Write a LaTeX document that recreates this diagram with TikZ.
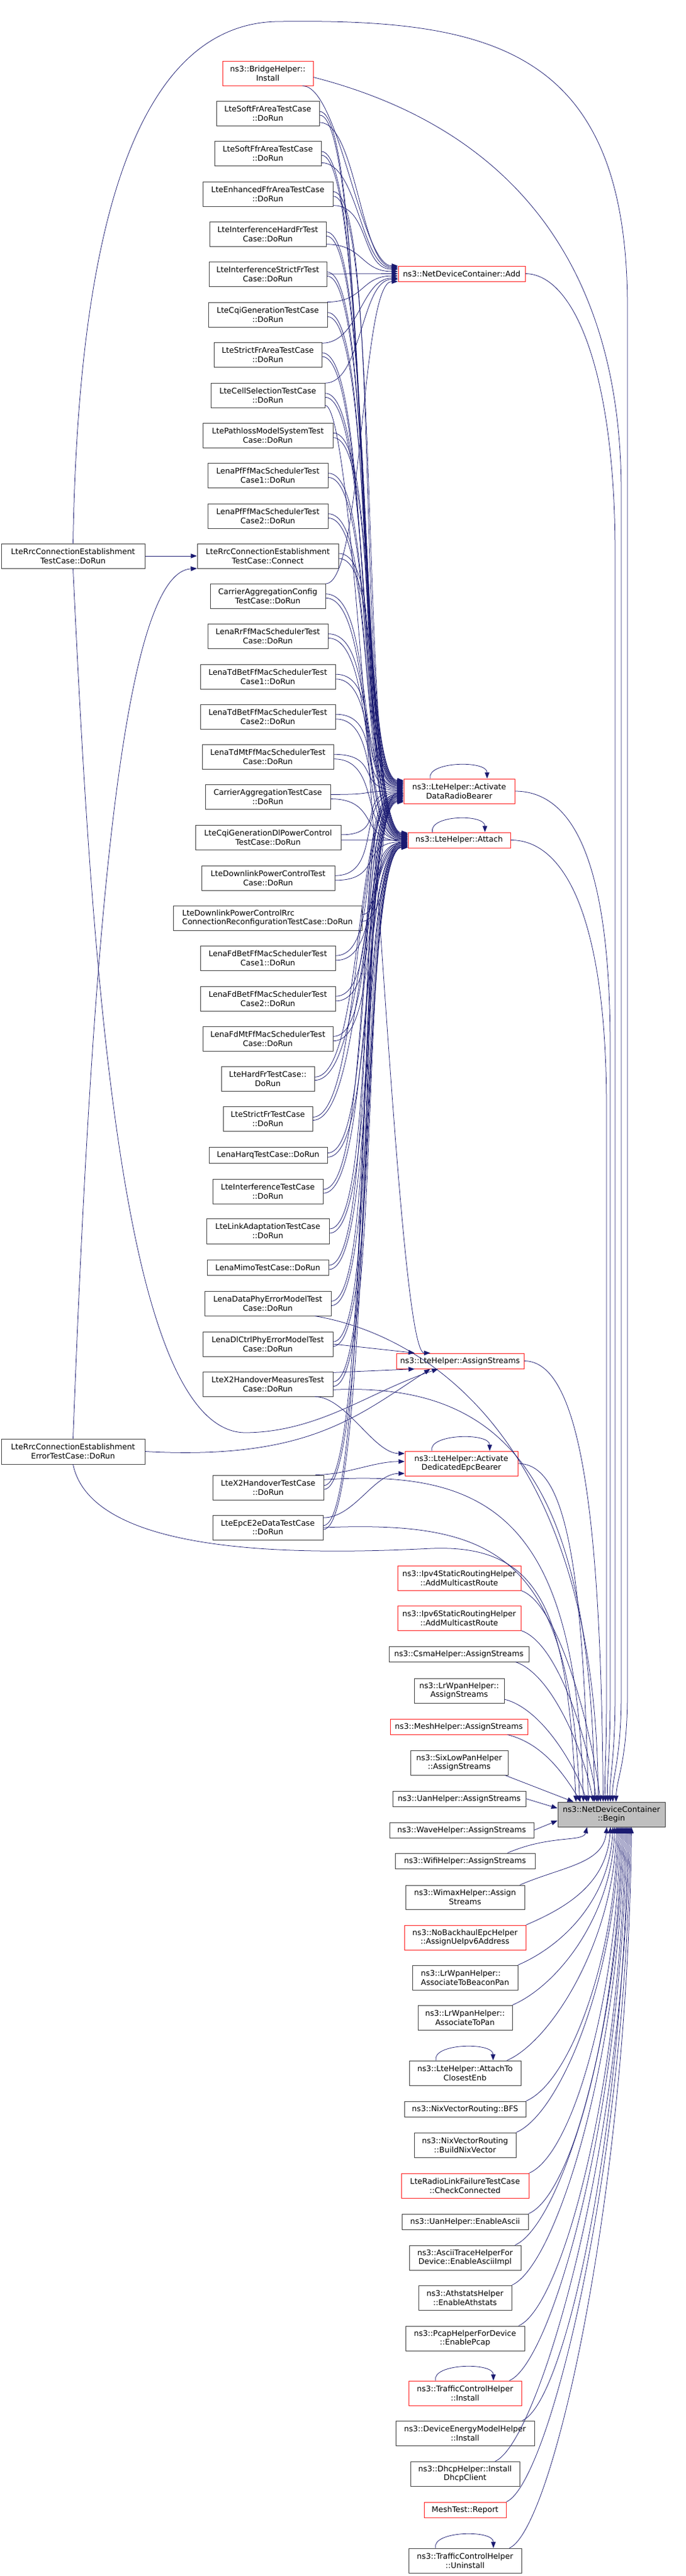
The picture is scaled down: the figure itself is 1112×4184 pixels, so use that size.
\documentclass[tikz,border=0pt]{standalone}
\usepackage{fontspec}
\setmainfont{DejaVu Sans}
\usetikzlibrary{arrows.meta,calc}
\definecolor{edgec}{HTML}{191970}
\definecolor{boxc}{HTML}{404040}
\definecolor{redc}{HTML}{FF2020}
\definecolor{beginfill}{HTML}{BFBFBF}
\newcommand\mynode[7]{\node[#2,minimum width={#5-#3},minimum height={#6-#4}] (#1) at ({(#3+#5)/2},{(#4+#6)/2}) {#7};}
\newcommand\scurve[3][80]{\draw[e] (#2) .. controls +(#1,0) and +(-#1,0) .. (#3);}
\newcommand\eb[4]{\draw[e] ($(#1.north east)+(#2,0)$) .. controls +(70,-30) and +(-6,#4) .. ($(begin.south west)+(#3,0)$);}
\newcommand\selfloop[1]{\draw[e] ($(#1.north west)!0.24!(#1.north east)$) .. controls +(-6,-28) and +(0,-30) .. ($(#1.north west)!0.75!(#1.north east)$);}
\tikzset{
 nb/.style={draw=boxc, fill=white, line width=1pt, inner sep=0pt, align=center, font=\fontsize{12.6}{14.6}\selectfont},
 nr/.style={nb, draw=redc},
 ng/.style={nb, fill=beginfill},
 e/.style={draw=edgec, line width=0.75pt, -{Triangle[length=10pt,width=7.5pt]}},
}
\begin{document}
\begin{tikzpicture}[x=1pt,y=-1pt]
\useasboundingbox (0,0) rectangle (1112,4184);
% left column
\mynode{rrc}{nb}{2}{883}{235}{923}{LteRrcConnectionEstablishment\\TestCase::DoRun}
\mynode{rrcerr}{nb}{2}{2337}{235}{2378}{LteRrcConnectionEstablishment\\ErrorTestCase::DoRun}
% middle column
\mynode{bridge}{nr}{361}{99}{508}{139}{ns3::BridgeHelper::\\Install}
\mynode{sfr}{nb}{351}{164}{518}{204}{LteSoftFrAreaTestCase\\::DoRun}
\mynode{sffr}{nb}{348}{229}{521}{269}{LteSoftFfrAreaTestCase\\::DoRun}
\mynode{effr}{nb}{329}{295}{540}{335}{LteEnhancedFfrAreaTestCase\\::DoRun}
\mynode{ihfr}{nb}{340}{360}{529}{400}{LteInterferenceHardFrTest\\Case::DoRun}
\mynode{isfr}{nb}{339}{425}{530}{465}{LteInterferenceStrictFrTest\\Case::DoRun}
\mynode{cqi}{nb}{338}{491}{531}{531}{LteCqiGenerationTestCase\\::DoRun}
\mynode{sfra}{nb}{347}{556}{522}{596}{LteStrictFrAreaTestCase\\::DoRun}
\mynode{cell}{nb}{342}{622}{527}{662}{LteCellSelectionTestCase\\::DoRun}
\mynode{path}{nb}{329}{687}{540}{727}{LtePathlossModelSystemTest\\Case::DoRun}
\mynode{pf1}{nb}{337}{752}{532}{792}{LenaPfFfMacSchedulerTest\\Case1::DoRun}
\mynode{pf2}{nb}{337}{818}{532}{858}{LenaPfFfMacSchedulerTest\\Case2::DoRun}
\mynode{conn}{nb}{320}{883}{549}{923}{LteRrcConnectionEstablishment\\TestCase::Connect}
\mynode{cac}{nb}{341}{948}{528}{988}{CarrierAggregationConfig\\TestCase::DoRun}
\mynode{rr}{nb}{337}{1013}{532}{1053}{LenaRrFfMacSchedulerTest\\Case::DoRun}
\mynode{tdb1}{nb}{325}{1079}{544}{1119}{LenaTdBetFfMacSchedulerTest\\Case1::DoRun}
\mynode{tdb2}{nb}{325}{1144}{544}{1184}{LenaTdBetFfMacSchedulerTest\\Case2::DoRun}
\mynode{tdmt}{nb}{328}{1209}{541}{1249}{LenaTdMtFfMacSchedulerTest\\Case::DoRun}
\mynode{cat}{nb}{333}{1274}{536}{1314}{CarrierAggregationTestCase\\::DoRun}
\mynode{cqidl}{nb}{317}{1340}{553}{1380}{LteCqiGenerationDlPowerControl\\TestCase::DoRun}
\mynode{dlpc}{nb}{327}{1406}{543}{1446}{LteDownlinkPowerControlTest\\Case::DoRun}
\mynode{dlrrc}{nb,align=left}{281}{1471}{587}{1511}{LteDownlinkPowerControlRrc\\ConnectionReconfigurationTestCase::DoRun}
\mynode{fdb1}{nb}{325}{1536}{544}{1576}{LenaFdBetFfMacSchedulerTest\\Case1::DoRun}
\mynode{fdb2}{nb}{325}{1602}{544}{1642}{LenaFdBetFfMacSchedulerTest\\Case2::DoRun}
\mynode{fdmt}{nb}{329}{1667}{540}{1707}{LenaFdMtFfMacSchedulerTest\\Case::DoRun}
\mynode{hfr}{nb}{359}{1732}{510}{1772}{LteHardFrTestCase::\\DoRun}
\mynode{sfr2}{nb}{362}{1797}{507}{1837}{LteStrictFrTestCase\\::DoRun}
\mynode{harq}{nb}{339}{1863}{531}{1889}{LenaHarqTestCase::DoRun}
\mynode{intf}{nb}{345}{1915}{524}{1955}{LteInterferenceTestCase\\::DoRun}
\mynode{link}{nb}{335}{1979}{534}{2020}{LteLinkAdaptationTestCase\\::DoRun}
\mynode{mimo}{nb}{336}{2046}{533}{2071}{LenaMimoTestCase::DoRun}
\mynode{dphy}{nb}{332}{2097}{537}{2137}{LenaDataPhyErrorModelTest\\Case::DoRun}
\mynode{dlctrl}{nb}{329}{2163}{540}{2203}{LenaDlCtrlPhyErrorModelTest\\Case::DoRun}
\mynode{x2m}{nb}{329}{2228}{540}{2268}{LteX2HandoverMeasuresTest\\Case::DoRun}
\mynode{x2h}{nb}{345}{2396}{525}{2436}{LteX2HandoverTestCase\\::DoRun}
\mynode{e2e}{nb}{345}{2461}{524}{2501}{LteEpcE2eDataTestCase\\::DoRun}
% helpers
\mynode{add}{nr}{646}{432}{852}{457}{ns3::NetDeviceContainer::Add}
\mynode{adrb}{nr}{655}{1265}{835}{1305}{ns3::LteHelper::Activate\\DataRadioBearer}
\mynode{att}{nr}{662}{1352}{828}{1377}{ns3::LteHelper::Attach}
\mynode{ast}{nr}{643}{2198}{850}{2223}{ns3::LteHelper::AssignStreams}
\mynode{adeb}{nr}{657}{2357}{840}{2397}{ns3::LteHelper::Activate\\DedicatedEpcBearer}
% right column
\mynode{ipv4}{nr}{645}{2543}{845}{2583}{ns3::Ipv4StaticRoutingHelper\\::AddMulticastRoute}
\mynode{ipv6}{nr}{645}{2608}{845}{2648}{ns3::Ipv6StaticRoutingHelper\\::AddMulticastRoute}
\mynode{csma}{nb}{631}{2674}{858}{2699}{ns3::CsmaHelper::AssignStreams}
\mynode{lrw}{nb}{672}{2726}{818}{2766}{ns3::LrWpanHelper::\\AssignStreams}
\mynode{mesh}{nr}{633}{2792}{856}{2817}{ns3::MeshHelper::AssignStreams}
\mynode{six}{nb}{666}{2843}{824}{2883}{ns3::SixLowPanHelper\\::AssignStreams}
\mynode{uan}{nb}{637}{2909}{853}{2934}{ns3::UanHelper::AssignStreams}
\mynode{begin}{ng}{905}{2927}{1079}{2967}{ns3::NetDeviceContainer\\::Begin}
\mynode{wave}{nb}{632}{2960}{866}{2985}{ns3::WaveHelper::AssignStreams}
\mynode{wifi}{nb}{641}{3010}{868}{3035}{ns3::WifiHelper::AssignStreams}
\mynode{wimax}{nb}{658}{3062}{851}{3101}{ns3::WimaxHelper::Assign\\Streams}
\mynode{nob}{nr}{656}{3127}{853}{3167}{ns3::NoBackhaulEpcHelper\\::AssignUeIpv6Address}
\mynode{beacon}{nb,align=left}{669}{3192}{840}{3232}{ns3::LrWpanHelper::\\AssociateToBeaconPan}
\mynode{apan}{nb}{678}{3257}{831}{3297}{ns3::LrWpanHelper::\\AssociateToPan}
\mynode{closest}{nb}{664}{3347}{845}{3387}{ns3::LteHelper::AttachTo\\ClosestEnb}
\mynode{bfs}{nb}{656}{3413}{853}{3438}{ns3::NixVectorRouting::BFS}
\mynode{bnv}{nb}{672}{3464}{837}{3504}{ns3::NixVectorRouting\\::BuildNixVector}
\mynode{rlf}{nr}{651}{3530}{858}{3570}{LteRadioLinkFailureTestCase\\::CheckConnected}
\mynode{uanasc}{nb}{652}{3596}{857}{3621}{ns3::UanHelper::EnableAscii}
\mynode{ascii}{nb}{664}{3647}{845}{3687}{ns3::AsciiTraceHelperFor\\Device::EnableAsciiImpl}
\mynode{ath}{nb}{679}{3712}{830}{3752}{ns3::AthstatsHelper\\::EnableAthstats}
\mynode{pcap}{nb}{658}{3778}{851}{3818}{ns3::PcapHelperForDevice\\::EnablePcap}
\mynode{tci}{nr}{663}{3867}{846}{3907}{ns3::TrafficControlHelper\\::Install}
\mynode{dem}{nb}{642}{3932}{867}{3972}{ns3::DeviceEnergyModelHelper\\::Install}
\mynode{dhcp}{nb}{666}{3998}{843}{4038}{ns3::DhcpHelper::Install\\DhcpClient}
\mynode{mtr}{nr}{688}{4064}{821}{4089}{MeshTest::Report}
\mynode{tcu}{nb}{663}{4139}{846}{4179}{ns3::TrafficControlHelper\\::Uninstall}

% self loops
\selfloop{adrb}
\selfloop{att}
\selfloop{adeb}
\selfloop{closest}
\selfloop{tci}
\selfloop{tcu}

% Connect callers
\draw[e] (rrc.east) -- (conn.west);
\draw[e] (rrcerr.north) .. controls (150,1500) and (200,930) .. (conn.190);

% Add callers
\scurve[60]{bridge.340}{add.173}
\scurve[60]{sfr.350}{add.174}
\scurve[60]{sffr.350}{add.175}
\scurve[60]{effr.350}{add.176}
\scurve[60]{ihfr.350}{add.178}
\draw[e] (isfr.east) -- (add.west);
\scurve[60]{cqi.12}{add.182}
\scurve[60]{sfra.12}{add.184}
\scurve[60]{cell.12}{add.185}
\scurve[60]{cac.12}{add.187}

% ActivateDataRadioBearer and Attach callers
\foreach \s/\a/\b in {sfr/169/172, sffr/170/173, effr/170/173, ihfr/171/174, isfr/171/174,
  cqi/172/175, sfra/172/175, cell/173/176, path/173/176, pf1/174/177, pf2/174/177,
  conn/175/178, cac/176/178, rr/176/179, tdb1/177/179, tdb2/178/180, tdmt/179/180,
  cat/180/181, cqidl/181/180, dlpc/182/182, fdb1/183/183, fdb2/183/183,
  fdmt/184/184, hfr/184/184, sfr2/185/185, harq/185/185, intf/186/186, link/186/186,
  mimo/187/187, dphy/188/187, dlctrl/189/188, x2m/190/188, x2h/190/188, e2e/191/188}{
  \scurve{\s.2}{adrb.\a}
  \scurve{\s.358}{att.\b}
}
\scurve[40]{dlrrc.2}{adrb.182}
\scurve[40]{dlrrc.358}{att.182}

% AssignStreams callers
\draw[e] (dlctrl.east) -- (ast.170);
\draw[e] (x2m.10) -- (ast.190);
\draw[e] (rrc.south) .. controls (150,1600) and (200,2330) .. (400,2327) .. controls (520,2325) and (600,2260) .. (ast.200);
\draw[e] (rrcerr.east) .. controls (500,2372) and (580,2300) .. (ast.195);
\scurve[60]{cell.350}{ast.165}

% ActivateDedicatedEpcBearer callers
\scurve[50]{x2m.345}{adeb.170}
\scurve[50]{x2h.15}{adeb.178}
\scurve[50]{e2e.10}{adeb.190}

% long edges to Begin
\draw[e] (rrc.north) .. controls (125,500) and (180,40) .. (450,35) .. controls (800,30) and (1018,80) .. (1018,500) -- (1018,2750) .. controls (1018,2860) and (1000,2890) .. ($(begin.north west)+(95,0)$);
\draw[e] (bridge.355) .. controls (800,200) and (1008,400) .. (1008,800) -- (1008,2750) .. controls (1008,2860) and (992,2890) .. ($(begin.north west)+(90,0)$);
\draw[e] (add.east) .. controls (930,445) and (998,600) .. (998,900) -- (998,2750) .. controls (998,2860) and (988,2890) .. ($(begin.north west)+(86,0)$);
\draw[e] (adrb.east) .. controls (930,1285) and (990,1400) .. (990,1700) -- (990,2750) .. controls (990,2860) and (984,2890) .. ($(begin.north west)+(82,0)$);
\draw[e] (att.east) .. controls (920,1364) and (984,1500) .. (984,1800) -- (984,2750) .. controls (984,2860) and (980,2890) .. ($(begin.north west)+(78,0)$);
\draw[e] (ast.east) .. controls (940,2210) and (975,2450) .. ($(begin.north west)+(74,0)$);
\draw[e] (dphy.345) .. controls (700,2170) and (968,2350) .. ($(begin.north west)+(66,0)$);
\draw[e] (x2m.355) .. controls (820,2245) and (960,2400) .. ($(begin.north west)+(60,0)$);
\draw[e] (adeb.east) .. controls (910,2378) and (945,2500) .. ($(begin.north west)+(50,0)$);
\draw[e] (x2h.8) .. controls (800,2385) and (935,2470) .. ($(begin.north west)+(42,0)$);
\draw[e] (e2e.east) .. controls (800,2470) and (925,2520) .. ($(begin.north west)+(36,0)$);
\draw[e] (rrcerr.south) .. controls (150,2530) and (500,2525) .. (700,2515) .. controls (880,2508) and (920,2620) .. ($(begin.north west)+(30,0)$);

% right column upper to Begin
\draw[e] (ipv4.south east) .. controls +(60,20) and +(-15,-120) .. ($(begin.north west)+(70,0)$);
\draw[e] (ipv6.south east) .. controls +(60,20) and +(-15,-100) .. ($(begin.north west)+(64,0)$);
\draw[e] ($(csma.south east)+(-22,0)$) .. controls +(60,20) and +(-15,-80) .. ($(begin.north west)+(58,0)$);
\draw[e] ($(lrw.east)+(0,14)$) .. controls +(60,15) and +(-20,-60) .. ($(begin.north west)+(48,0)$);
\draw[e] ($(mesh.south east)+(-33,0)$) .. controls +(60,15) and +(-25,-40) .. ($(begin.north west)+(38,0)$);
\draw[e] ($(six.south east)+(-5,0)$) -- ($(begin.north west)+(26,0)$);
\draw[e] (uan.east) -- ($(begin.west)+(0,-10)$);
\draw[e] (wave.east) -- ($(begin.west)+(0,10)$);

% right column lower to Begin
\eb{wifi}{-45}{48}{25}
\eb{wimax}{-8}{80}{60}
\eb{nob}{0}{86}{90}
\eb{beacon}{0}{90}{120}
\eb{apan}{0}{93}{150}
\eb{closest}{-23}{96}{190}
\eb{bfs}{0}{98}{220}
\eb{bnv}{0}{100}{250}
\eb{rlf}{0}{102}{280}
\eb{uanasc}{0}{104}{320}
\eb{ascii}{-10}{106}{350}
\eb{ath}{0}{108}{380}
\eb{pcap}{-10}{110}{420}
\eb{tci}{-20}{112}{460}
\eb{dem}{-20}{114}{490}
\eb{dhcp}{-40}{116}{520}
\eb{mtr}{0}{118}{550}
\eb{tcu}{-20}{120}{600}
\end{tikzpicture}
\end{document}
